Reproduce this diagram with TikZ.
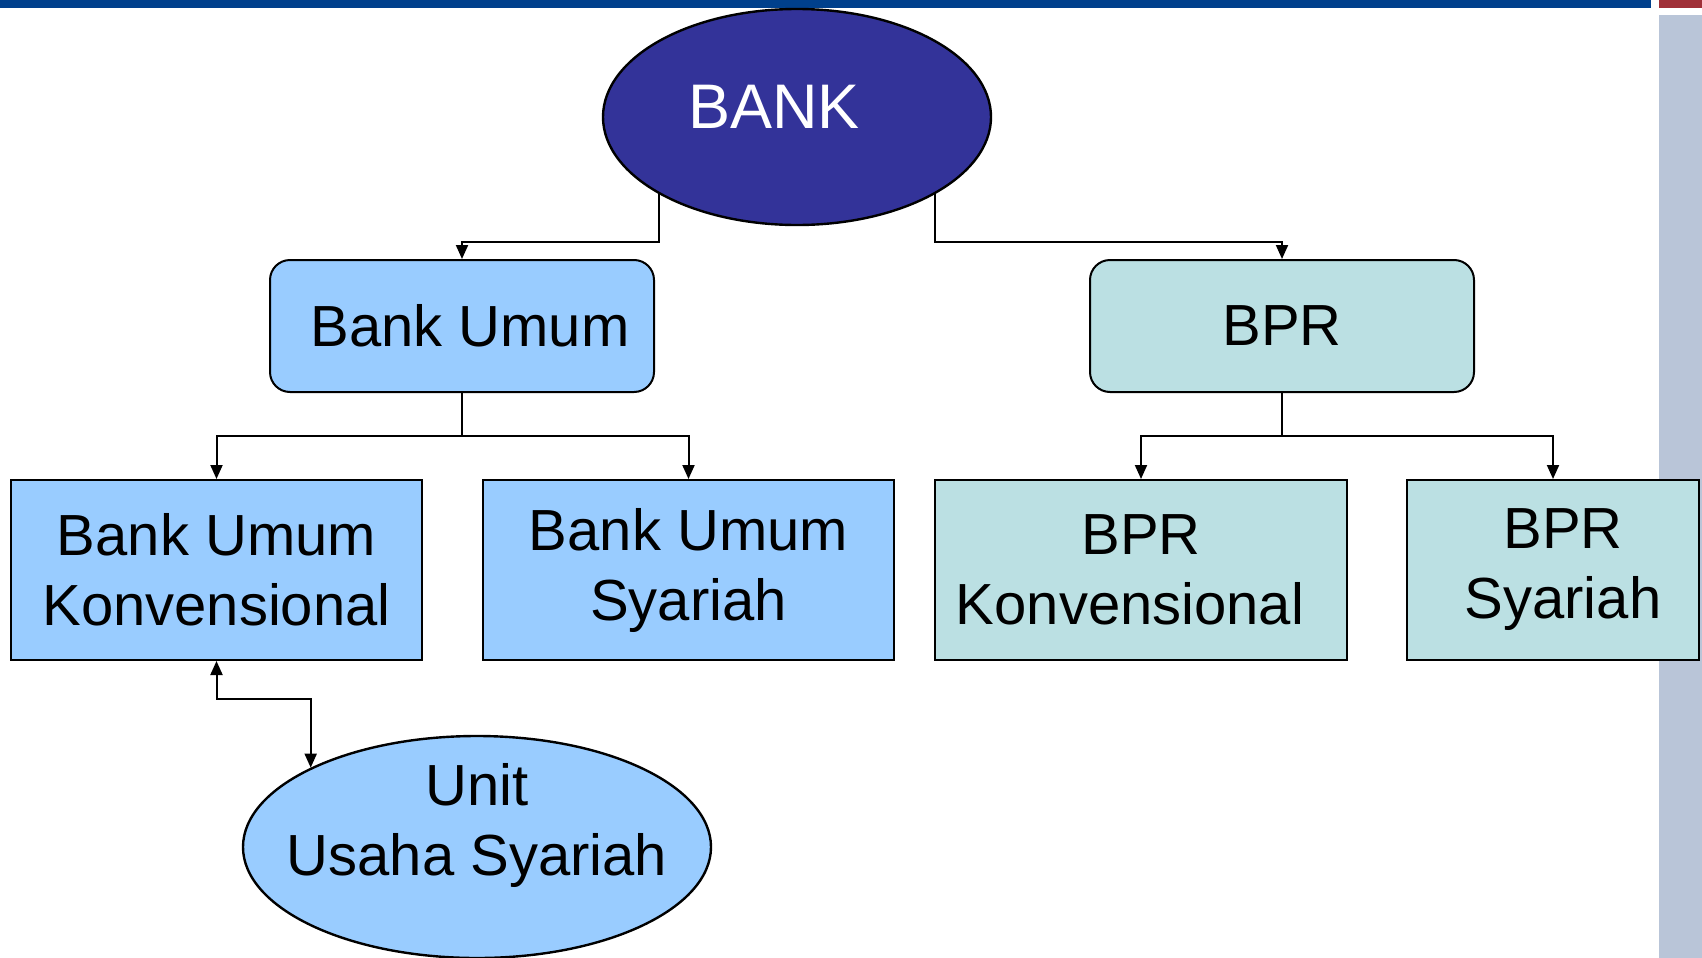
\documentclass[tikz,border=0pt]{standalone}
\usepackage{fontspec}
\setmainfont{Liberation Sans}
\usetikzlibrary{arrows.meta, shapes.geometric}

\definecolor{bankblue}{RGB}{51,51,153}
\definecolor{umumblue}{RGB}{153,204,255}
\definecolor{bprteal}{RGB}{187,224,227}
\definecolor{barblue}{RGB}{0,64,140}
\definecolor{barred}{RGB}{160,48,56}
\definecolor{sidegray}{RGB}{185,197,216}

\tikzset{
  oval/.style={ellipse, draw=black, line width=1.2pt, inner ysep=-6pt, inner xsep=-16pt, align=center},
  topbox/.style={rectangle, rounded corners=10pt, draw=black, line width=1pt, minimum width=192pt, minimum height=66pt},
  subbox/.style={rectangle, draw=black, line width=1pt, minimum height=90pt, align=center},
  link/.style={line width=1pt, -{Triangle[width=6pt,length=7pt]}},
  twolink/.style={line width=1pt, {Triangle[width=6pt,length=7pt]}-{Triangle[width=6pt,length=7pt]}},
}

\begin{document}
\begin{tikzpicture}[x=0.5pt, y=-0.5pt, font=\fontsize{29}{35}\selectfont]
\useasboundingbox (0,0) rectangle (1702,958);

% 1. 页面的边条
\fill[barblue] (0,0) rectangle (1651,8);
\fill[barred] (1659,0) rectangle (1702,8);
\fill[sidegray] (1659,15) rectangle (1702,958);

% 2. 各个节点
\node[oval, fill=bankblue, text=white, minimum width=194pt, minimum height=108pt, text depth=10pt,
      font=\fontsize{31.5}{38}\selectfont] (bank) at (797,117) {BANK\hspace*{23pt}};
\node[topbox, fill=umumblue] (bu) at (462,326) {\hspace*{8pt}Bank Umum};
\node[topbox, fill=bprteal] (bpr) at (1282,326) {BPR};
\node[subbox, fill=umumblue, minimum width=205.5pt] (buk) at (216.5,570) {Bank Umum\\Konvensional};
\node[subbox, fill=umumblue, minimum width=205.5pt] (bus) at (688.5,570) {Bank Umum\\Syariah};
\node[subbox, fill=bprteal, minimum width=206pt] (bprk) at (1141,570) {BPR\\Konvensional\hspace*{11pt}};
\node[subbox, fill=bprteal, minimum width=146pt] (bprs) at (1553,570) {\hspace*{10pt}BPR\\\hspace*{10pt}Syariah};
\node[oval, fill=umumblue, minimum width=234pt, minimum height=111pt, text depth=28pt] (uus) at (477,847) {Unit\\Usaha Syariah};

% 3. 连线
\draw[link] (bank.south west) -- ++(0,48) -| (bu.north);
\draw[link] (bank.south east) -- ++(0,48) -| (bpr.north);
\draw[link] (bu.south) -- ++(0,43) -| (buk.north);
\draw[link] (bu.south) -- ++(0,43) -| (bus.north);
\draw[link] (bpr.south) -- ++(0,43) -| (bprk.north);
\draw[link] (bpr.south) -- ++(0,43) -| (bprs.north);
\draw[twolink] (buk.south) -- ++(0,38) -| (uus.north west);
\end{tikzpicture}
\end{document}
